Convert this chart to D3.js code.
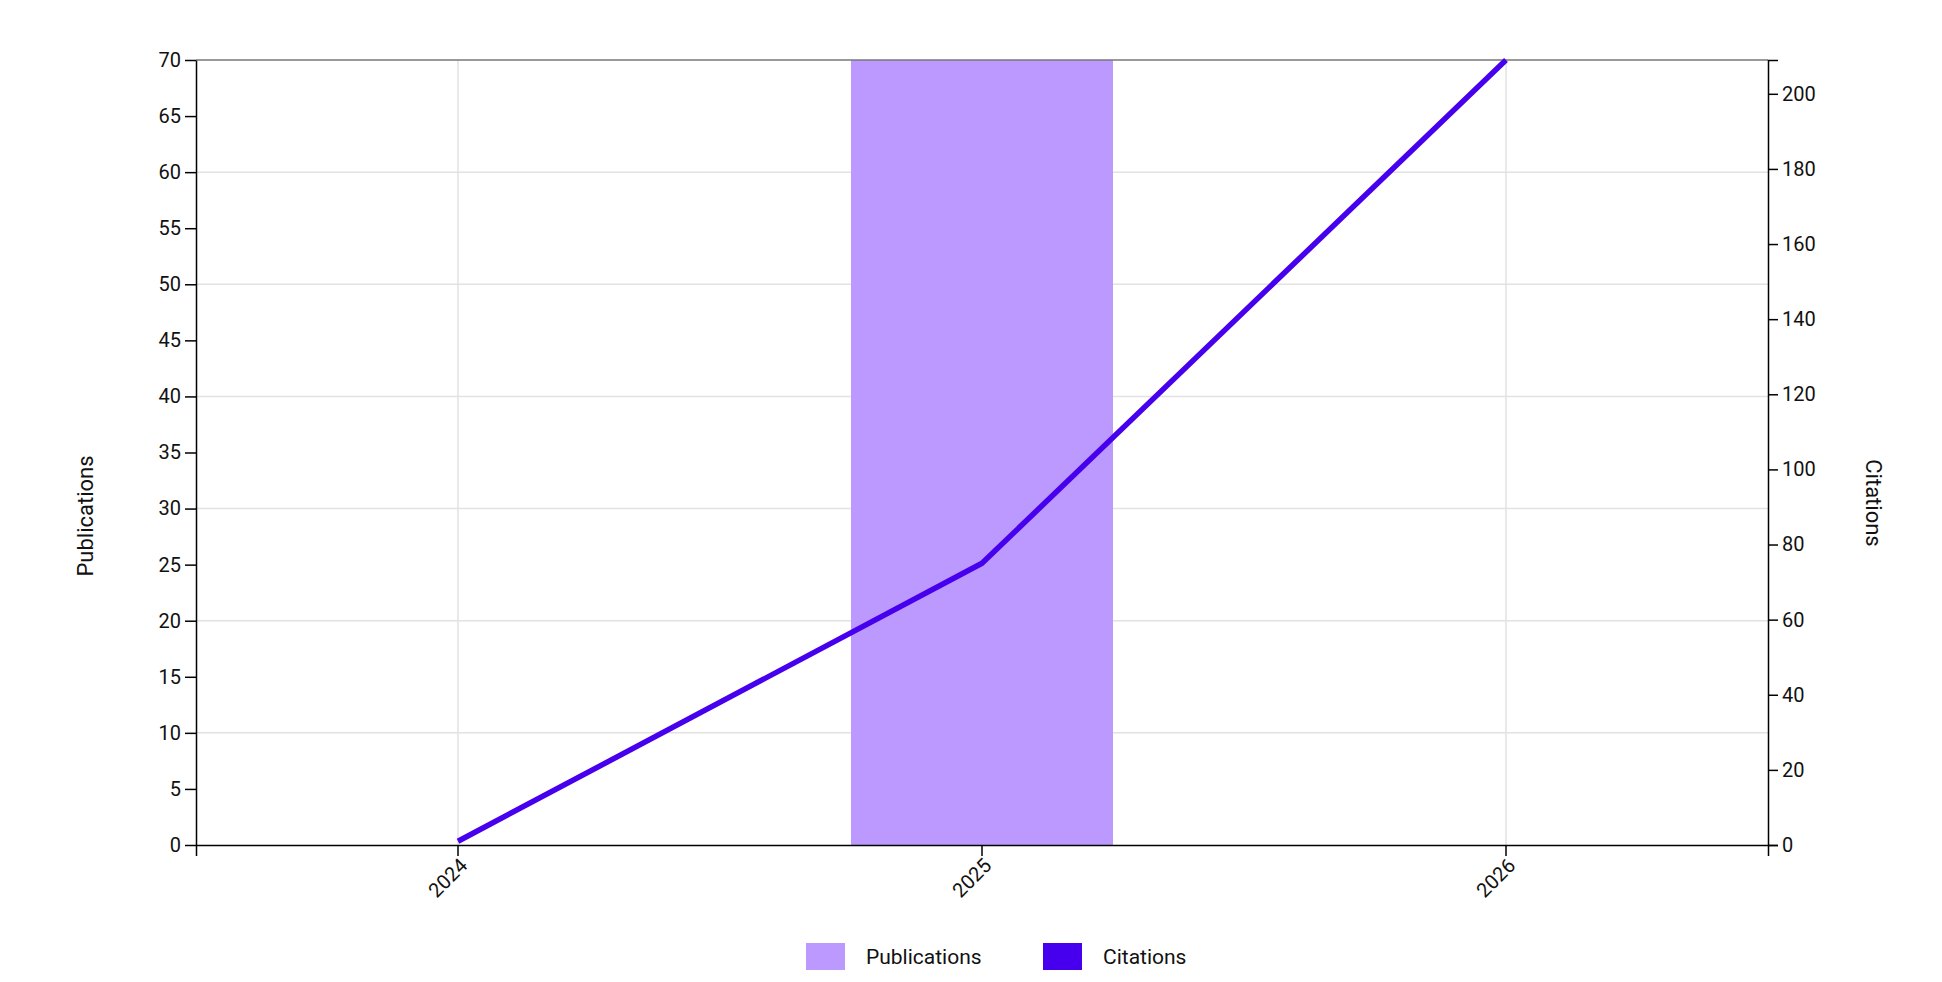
<!DOCTYPE html>
<html><head><meta charset="utf-8">
<script src="https://cdn.jsdelivr.net/npm/d3@7"></script>
<style>
html,body{margin:0;padding:0;background:#fff;}
svg{display:block;font-family:Roboto, "Noto Sans", sans-serif;}
</style></head>
<body>
<svg id="chart" width="1942" height="982"></svg>
<script>
const years = ["2024", "2025", "2026"];
const publications = [0, 70, 0];
const citations = [1, 75, 209];
const leftTicks = [0,5,10,15,20,25,30,35,40,45,50,55,60,65,70];
const rightTicks = [0,20,40,60,80,100,120,140,160,180,200];
const gridTicks = [10,20,30,40,50,60];
const seriesNames = ["Publications", "Citations"];
const colors = ["#bb99ff", "#4700ee"];

const svg = d3.select("#chart");
const m = {left:196, right:1942-1768, top:60, bottom:982-845};
const W = 1942 - m.left - m.right, H = 982 - m.top - m.bottom;
const g = svg.append("g").attr("transform", `translate(${m.left},${m.top})`);

const x = d3.scaleBand().domain(years).range([0, W]).padding(0);
const yL = d3.scaleLinear().domain([0, 70]).range([H, 0]);
const yR = d3.scaleLinear().domain([0, 209]).range([H, 0]);

// grid
g.append("g").selectAll("line").data(gridTicks).join("line")
  .attr("x1", 0).attr("x2", W).attr("y1", d=>yL(d)).attr("y2", d=>yL(d))
  .attr("stroke", "#e2e2e2").attr("stroke-width", 1.5);
g.append("g").selectAll("line").data(years).join("line")
  .attr("x1", d=>x(d)+x.bandwidth()/2).attr("x2", d=>x(d)+x.bandwidth()/2)
  .attr("y1", 0).attr("y2", H)
  .attr("stroke", "#e2e2e2").attr("stroke-width", 1.5);

// bars
const bw = x.bandwidth()*0.5;
g.append("g").selectAll("rect").data(years).join("rect")
  .attr("x", d=>x(d)+(x.bandwidth()-bw)/2)
  .attr("width", bw)
  .attr("y", (d,i)=>yL(publications[i]))
  .attr("height", (d,i)=>H - yL(publications[i]))
  .attr("fill", colors[0]);

// top border
g.append("line").attr("x1",0).attr("x2",W).attr("y1",0).attr("y2",0)
  .attr("stroke","#777").attr("stroke-width",1.5);

// line
const line = d3.line().x((d,i)=>x(years[i])+x.bandwidth()/2).y(d=>yR(d));
g.append("path").datum(citations).attr("d", line)
  .attr("fill","none").attr("stroke", colors[1]).attr("stroke-width", 5.5)
  .attr("stroke-linejoin","round");

// axes
const fs = "20px";
const ax = g.append("g").attr("transform", `translate(0,${H})`)
  .call(d3.axisBottom(x).tickSize(11).tickSizeOuter(11));
ax.selectAll("text").attr("text-anchor","end")
  .attr("transform","rotate(-45)").attr("dx","-0.4em").attr("dy","0.45em");
const al = g.append("g").call(d3.axisLeft(yL).tickValues(leftTicks).tickSize(11).tickSizeOuter(0));
const ar = g.append("g").attr("transform", `translate(${W},0)`)
  .call(d3.axisRight(yR).tickValues(rightTicks).tickSize(10).tickSizeOuter(10));
[ax, al, ar].forEach(a=>{
  a.selectAll("text").style("font-size", fs).style("font-family","Roboto").attr("fill","#111");
  a.selectAll("line,path").attr("stroke","#000").attr("stroke-width",1.5);
});
al.selectAll("text").attr("x", -15);
ar.selectAll("text").attr("x", 14);

// axis titles
svg.append("text").attr("transform","translate(93,516) rotate(-90)")
  .attr("text-anchor","middle").style("font-size","22px").attr("fill","#111").text("Publications");
svg.append("text").attr("transform","translate(1866,503) rotate(90)")
  .attr("text-anchor","middle").style("font-size","22px").attr("fill","#111").text("Citations");

// legend
const leg = svg.append("g");
const lx = [806, 1043];
seriesNames.forEach((n,i)=>{
  leg.append("rect").attr("x", lx[i]).attr("y", 943).attr("width",39).attr("height",27).attr("fill",colors[i]);
  leg.append("text").attr("x", lx[i]+60).attr("y", 963.5).style("font-size","21px").attr("fill","#111").text(n);
});
</script>
</body></html>
